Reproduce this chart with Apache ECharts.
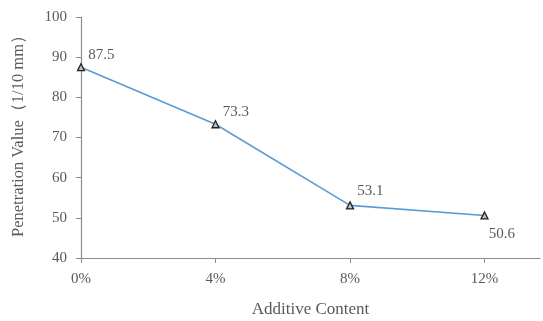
<!DOCTYPE html>
<html><head><meta charset="utf-8">
<script src="https://cdn.jsdelivr.net/npm/echarts@6/dist/echarts.min.js"></script>
<style>html,body{margin:0;padding:0;background:#fff}#c{width:543px;height:321px}</style>
</head><body><div id="c"></div>
<script>
const categories = [0, 4, 8, 12];
const values = [87.5, 73.3, 53.1, 50.6];
const yTicks = [40, 50, 60, 70, 80, 90, 100];
const xTitle = 'Additive Content';
const yTitle = 'Penetration Value（1/10 mm）';

const font = 'Liberation Serif, Times New Roman, serif';
const txt = '#595959';
const axisCol = '#8c8c8c';
const labelPos = [[-2, -12], [-2, -12], [-2, -14], [-5, 19]];

const chart = echarts.init(document.getElementById('c'));
chart.setOption({
  animation: false,
  grid: {left: 81, right: 3, top: 17, bottom: 63, containLabel: false, outerBoundsMode: 'none'},
  graphic: [{
    type: 'text', x: 19, y: 132, rotation: Math.PI / 2,
    style: {text: yTitle, fontFamily: font, fontSize: 16.5, fill: txt, align: 'center', verticalAlign: 'middle'}
  }],
  xAxis: {
    type: 'value', min: 0, max: 13.65, interval: 4,
    name: xTitle, nameLocation: 'middle', nameGap: 43,
    nameTextStyle: {fontFamily: font, fontSize: 17, color: txt},
    axisLine: {lineStyle: {color: axisCol, width: 1.2}},
    axisTick: {show: true, length: 5, lineStyle: {color: axisCol}, customValues: categories},
    axisLabel: {fontFamily: font, fontSize: 15, color: txt, margin: 14, customValues: categories,
      formatter: v => v + '%'},
    splitLine: {show: false}
  },
  yAxis: {
    type: 'value', min: 40, max: 100, interval: 10,
    axisLine: {show: true, lineStyle: {color: axisCol, width: 1.2}},
    axisTick: {show: true, length: 5, lineStyle: {color: axisCol}},
    axisLabel: {fontFamily: font, fontSize: 15, color: txt, margin: 14},
    splitLine: {show: false}
  },
  series: [{
    type: 'line',
    data: categories.map((c, i) => ({
      value: [c, values[i]],
      label: {offset: labelPos[i]}
    })),
    lineStyle: {color: '#5b9bd5', width: 1.6},
    symbol: 'triangle', symbolSize: 7,
    itemStyle: {color: '#bfbfbf', borderColor: '#222', borderWidth: 1.3},
    label: {show: true, position: 'right', align: 'left', fontFamily: font, fontSize: 15, color: txt,
      formatter: p => p.value[1].toFixed(1)}
  }]
});
</script></body></html>
